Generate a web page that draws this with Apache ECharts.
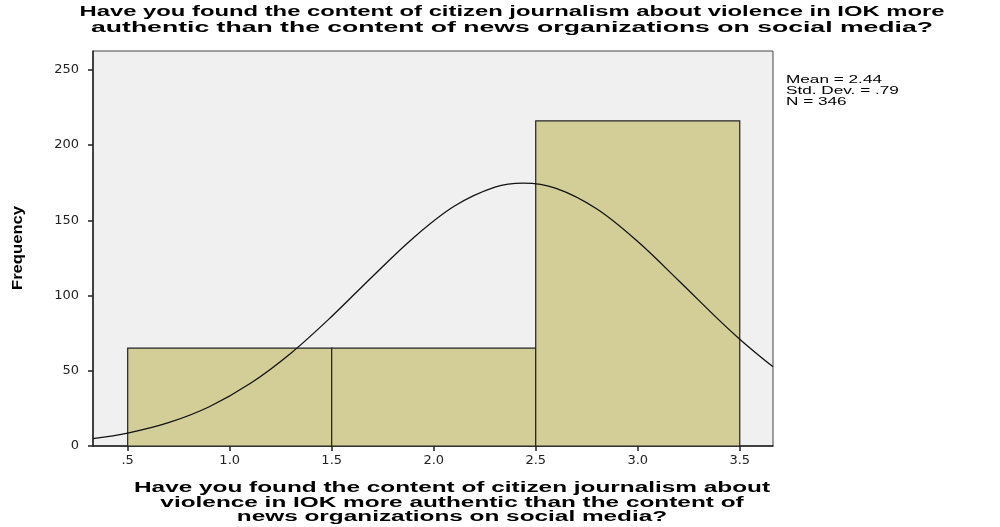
<!DOCTYPE html>
<html>
<head>
<meta charset="utf-8">
<script src="https://cdn.jsdelivr.net/npm/echarts@6/dist/echarts.min.js"></script>
<style>html,body{margin:0;padding:0;background:#fff;}#c{width:1000px;height:527px;}</style>
</head>
<body>
<div id="c"></div>
<script>
// ---- data ----
const titleLines = ['Have you found the content of citizen journalism about violence in IOK more', 'authentic than the content of news organizations on social media?'];
const xTitleLines = ['Have you found the content of citizen journalism about', 'violence in IOK more authentic than the content of', 'news organizations on social media?'];
const yTitle = 'Frequency';
const statsLines = ['Mean = 2.44', 'Std. Dev. = .79', 'N = 346'];
const binStart = [0.5, 1.5, 2.5];
const binEnd = [1.5, 2.5, 3.5];
const frequencies = [65, 65, 216];
const xTickValues = [0.5, 1.0, 1.5, 2.0, 2.5, 3.0, 3.5];
const xTickLabels = ['.5', '1.0', '1.5', '2.0', '2.5', '3.0', '3.5'];
const yTickValues = [0, 50, 100, 150, 200, 250];
const yTickLabels = ['0', '50', '100', '150', '200', '250'];
// normal curve
const curveX = [0.33, 0.5, 0.7, 0.9, 1.1, 1.3, 1.5, 1.7, 1.9, 2.1, 2.3, 2.44, 2.6, 2.8, 3.0, 3.2, 3.4, 3.5, 3.6, 3.663];
const curveY = [4.9, 8.6, 15.5, 26.1, 41.5, 61.7, 86.1, 112.7, 138.3, 159.3, 172.0, 174.7, 171.2, 157.5, 135.9, 110.0, 83.5, 71.0, 59.5, 52.7];

// ---- helpers ----
const ctx = document.createElement('canvas').getContext('2d');
function textW(t, font) { ctx.font = font; return ctx.measureText(t).width; }
const TITLE_FONT = 'bold 15.5px "Liberation Sans", Arial, sans-serif';
const XT_FONT = 'bold 14.5px "Liberation Sans", Arial, sans-serif';
const STAT_FONT = '10.5px "Liberation Sans", Arial, sans-serif';
const Y_FONT = 'bold 15px "Liberation Sans", Arial, sans-serif';

const titleWidths = [865, 842];
const xtScale = 636 / textW(xTitleLines[0], XT_FONT);
const statScale = 96 / textW(statsLines[0], STAT_FONT);
const yScale = 84 / textW(yTitle, Y_FONT);

const graphics = [];
titleLines.forEach((t, i) => graphics.push({
  type: 'text', x: 512, y: 12 + i * 16, scaleX: titleWidths[i] / textW(t, TITLE_FONT),
  style: { text: t, font: TITLE_FONT, fill: '#000', textAlign: 'center', textVerticalAlign: 'middle' }
}));
xTitleLines.forEach((t, i) => graphics.push({
  type: 'text', x: 452, y: 488 + i * 14.5, scaleX: xtScale,
  style: { text: t, font: XT_FONT, fill: '#000', textAlign: 'center', textVerticalAlign: 'middle' }
}));
statsLines.forEach((t, i) => graphics.push({
  type: 'text', x: 786, y: 80.5 + i * 11, scaleX: statScale,
  style: { text: t, font: STAT_FONT, fill: '#000', textAlign: 'left', textVerticalAlign: 'middle' }
}));
graphics.push({
  type: 'text', x: 18, y: 248, rotation: Math.PI / 2, scaleX: yScale, scaleY: 0.95,
  style: { text: yTitle, font: Y_FONT, fill: '#000', textAlign: 'center', textVerticalAlign: 'middle' }
});

const barData = binStart.map((s, i) => [s, binEnd[i], frequencies[i]]);
const curveData = curveX.map((x, i) => [x, curveY[i]]);

const chart = echarts.init(document.getElementById('c'), null, { renderer: 'canvas' });
chart.setOption({
  animation: false,
  backgroundColor: '#ffffff',
  grid: { left: 93, right: 227, top: 51, bottom: 81, show: true, backgroundColor: '#f0f0f0', borderColor: '#444', borderWidth: 1 },
  xAxis: {
    type: 'value', min: 0.33, max: 3.663,
    axisLine: { onZero: false, lineStyle: { color: '#222', width: 1.5 } },
    axisTick: { customValues: xTickValues, length: 5, lineStyle: { color: '#222', width: 1.5 } },
    axisLabel: { customValues: xTickValues, margin: 8, color: '#222', fontFamily: 'DejaVu Sans', fontSize: 13,
      formatter: v => { const i = xTickValues.findIndex(t => Math.abs(t - v) < 1e-6); return i >= 0 ? xTickLabels[i] : ''; } },
    splitLine: { show: false }
  },
  yAxis: {
    type: 'value', min: 0, max: 262.5,
    axisLine: { show: true, lineStyle: { color: '#222', width: 1.5 } },
    axisTick: { show: true, customValues: yTickValues, length: 5, lineStyle: { color: '#222', width: 1.5 } },
    axisLabel: { customValues: yTickValues, margin: 14, color: '#222', fontFamily: 'DejaVu Sans', fontSize: 13,
      formatter: v => { const i = yTickValues.findIndex(t => Math.abs(t - v) < 1e-6); return i >= 0 ? yTickLabels[i] : ''; } },
    splitLine: { show: false }
  },
  series: [
    {
      type: 'custom',
      data: barData,
      encode: { x: [0, 1], y: 2 },
      renderItem: (params, api) => {
        const p0 = api.coord([api.value(0), api.value(2)]);
        const p1 = api.coord([api.value(1), 0]);
        return {
          type: 'rect',
          shape: { x: p0[0], y: p0[1], width: p1[0] - p0[0], height: p1[1] - p0[1] },
          style: { fill: '#d3ce98', stroke: '#222', lineWidth: 1.2 }
        };
      },
      z: 2
    },
    {
      type: 'line', data: curveData, smooth: 0.35, showSymbol: false, symbol: 'none',
      lineStyle: { color: '#111', width: 1.3 }, clip: true, z: 3
    }
  ],
  graphic: graphics
});
</script>
</body>
</html>
